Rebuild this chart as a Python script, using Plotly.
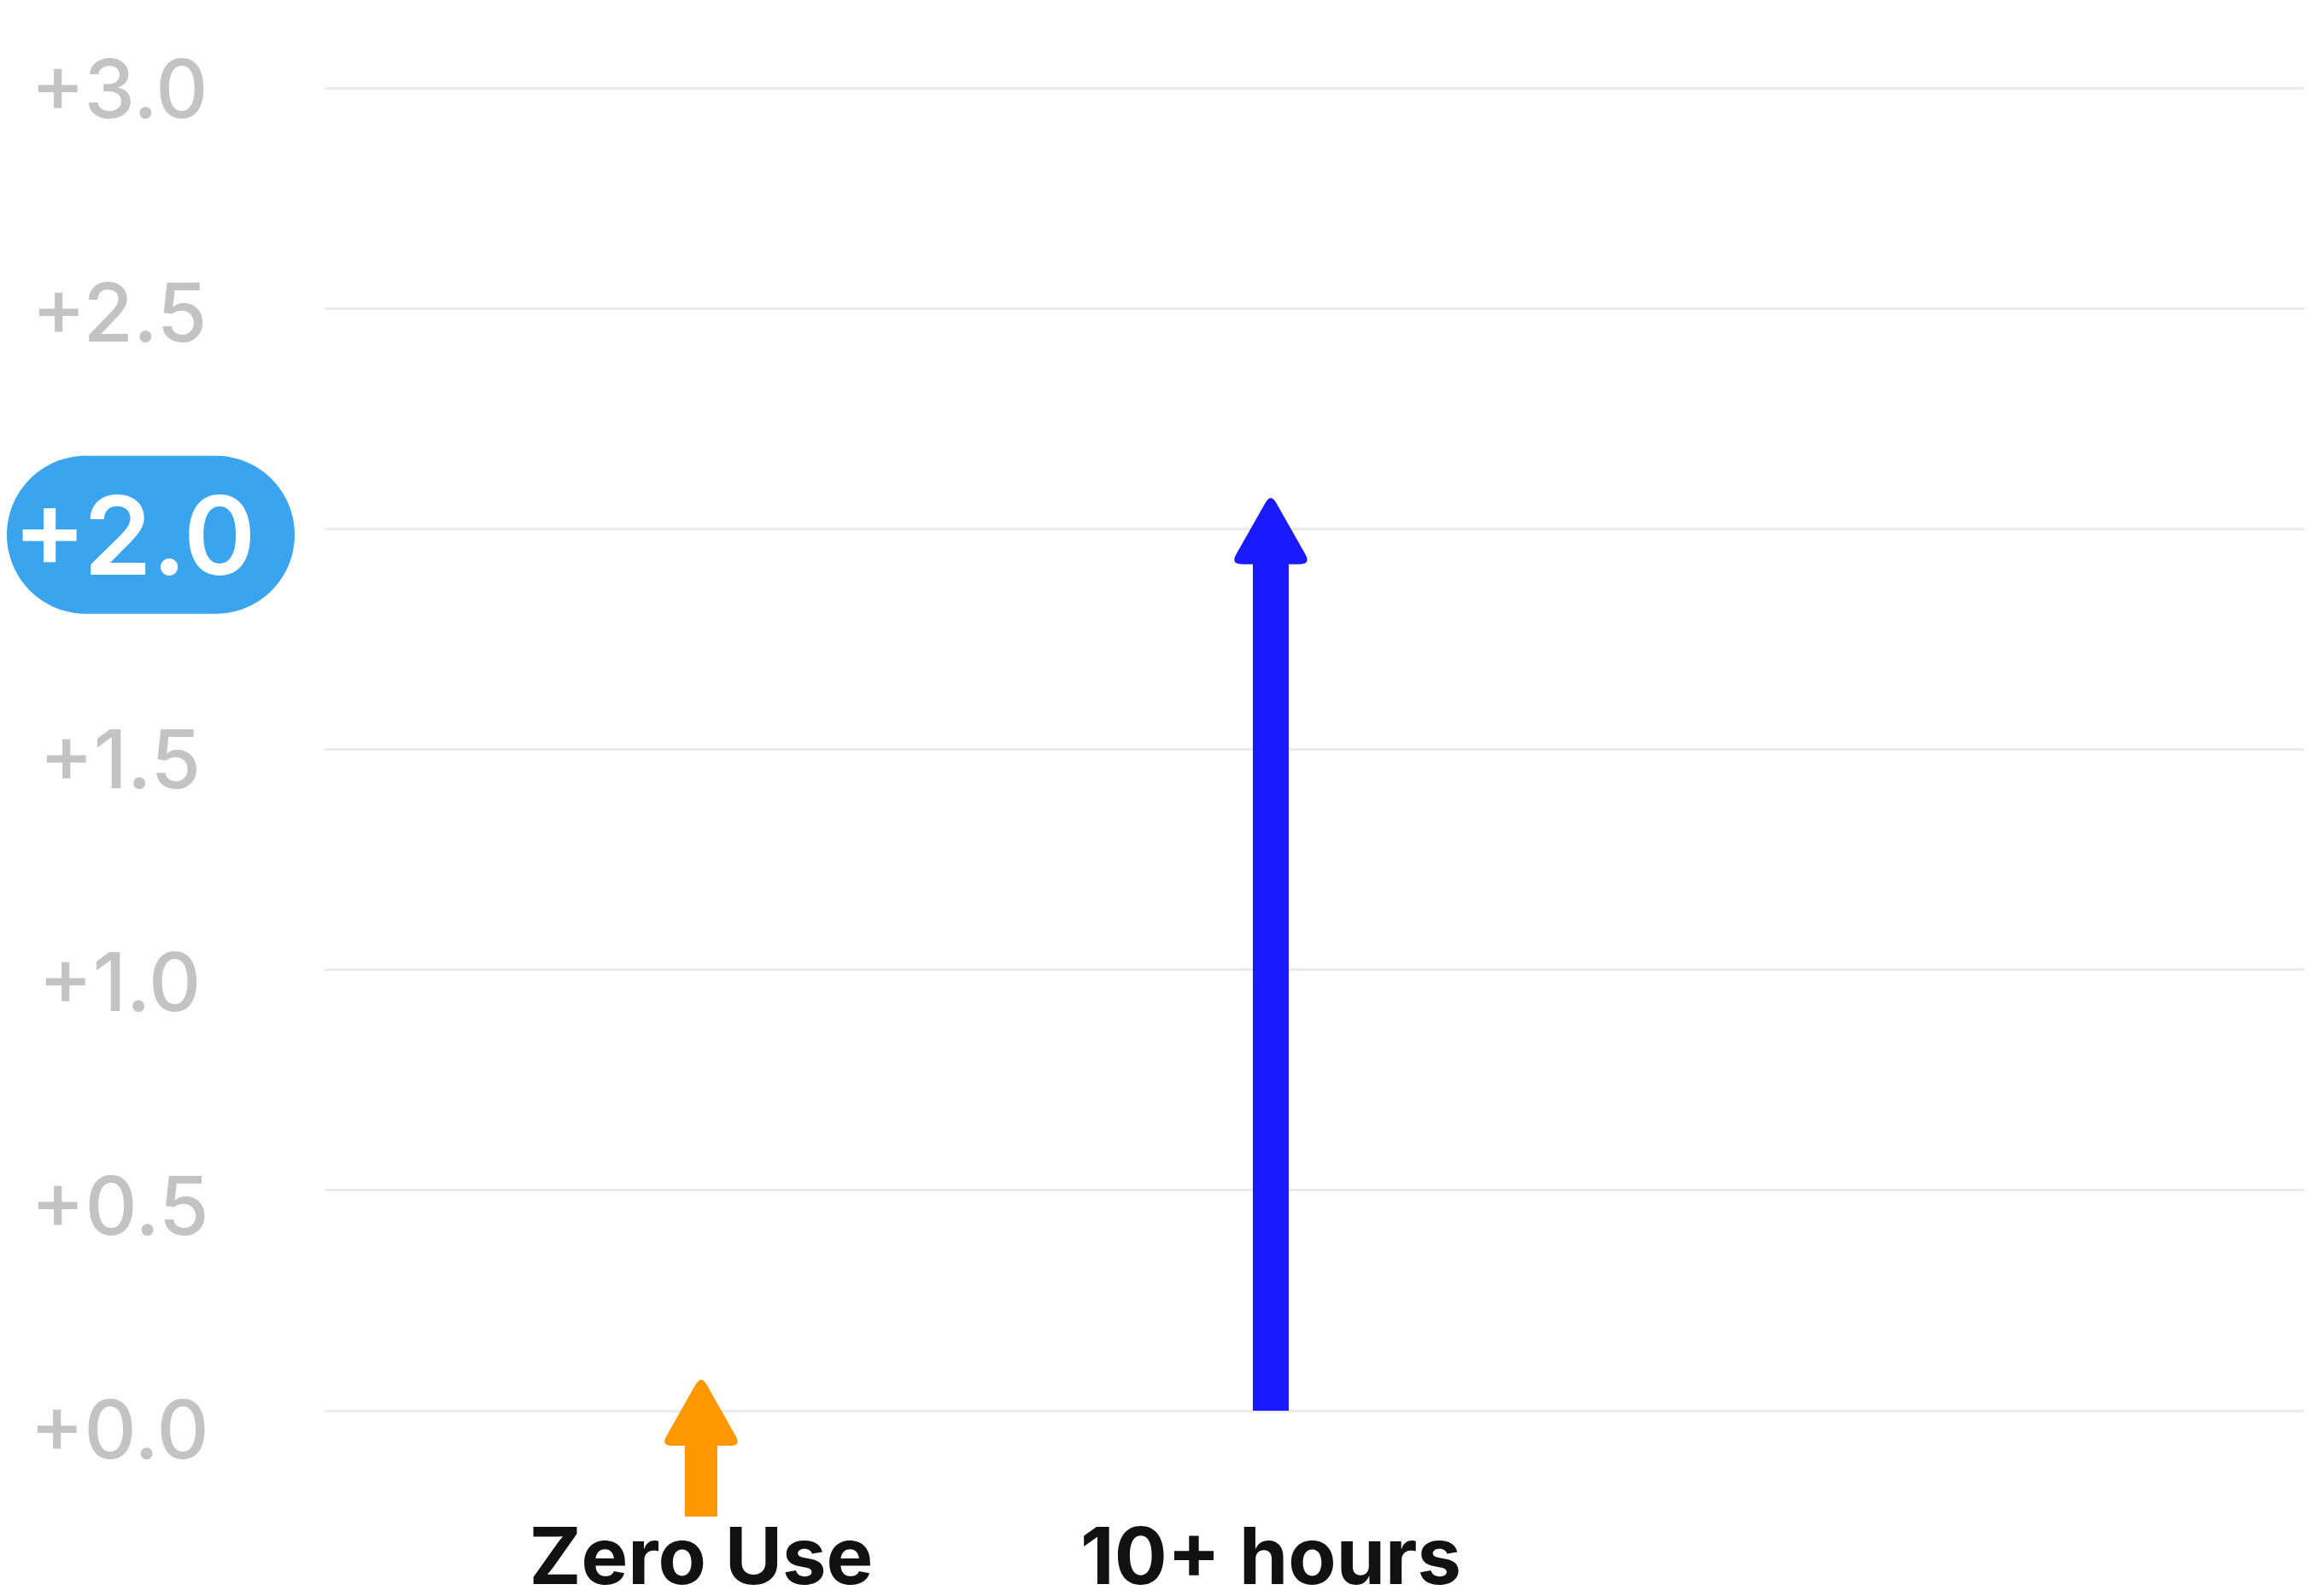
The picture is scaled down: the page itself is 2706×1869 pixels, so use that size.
import plotly.graph_objects as go

# ---------------- data ----------------
categories = ["Zero Use", "10+ hours"]
arrow_start = [-0.24, 0.0]      # where each arrow's shaft begins
arrow_end = [0.0, 2.0]          # value each arrow points to
arrow_colors = ["#FF9800", "#1A1AFF"]
shaft_widths = [38, 42]

y_tick_values = [0.0, 0.5, 1.0, 1.5, 2.0, 2.5, 3.0]
y_tick_labels = ["+0.0", "+0.5", "+1.0", "+1.5", "+2.0", "+2.5", "+3.0"]
highlight_value = 2.0
highlight_label = "+2.0"

# ---------------- style ----------------
W, H = 2690, 1853
FONT = "Inter"
GRID_COLOR = "#ebebeb"
TICK_COLOR = "#c3c3c3"
PILL_COLOR = "#3BA4EE"
LABEL_CENTER_SHIFT = -240      # px from plot left edge to tick label centre
LABEL_DRIFT = 7                # px per unit (labels drift slightly downward)

x_pos = list(range(len(categories)))

fig = go.Figure()

# shafts
for i, cat in enumerate(categories):
    fig.add_trace(go.Scatter(
        x=[x_pos[i], x_pos[i]],
        y=[arrow_start[i], arrow_end[i]],
        mode="lines",
        line=dict(color=arrow_colors[i], width=shaft_widths[i]),
        hoverinfo="skip",
        showlegend=False,
    ))


def rounded_polygon(pts, r):
    def toward(a, b, d):
        dx, dy = b[0] - a[0], b[1] - a[1]
        L = (dx * dx + dy * dy) ** 0.5
        return (a[0] + dx / L * d, a[1] + dy / L * d)
    n = len(pts)
    parts = []
    for k in range(n):
        p0, p1, p2 = pts[k - 1], pts[k], pts[(k + 1) % n]
        a = toward(p1, p0, r)
        b = toward(p1, p2, r)
        cmd = "M" if k == 0 else "L"
        parts.append(f"{cmd}{a[0]:.2f},{a[1]:.2f} Q{p1[0]:.2f},{p1[1]:.2f} {b[0]:.2f},{b[1]:.2f}")
    return " ".join(parts) + " Z"


HEAD_PATH = rounded_polygon([(0, 42), (47, -41), (-47, -41)], 13)

# arrow heads (pixel-sized, anchored at data values)
for i in range(len(categories)):
    fig.add_shape(
        type="path", xref="x", yref="y",
        xsizemode="pixel", ysizemode="pixel",
        xanchor=x_pos[i], yanchor=arrow_end[i],
        path=HEAD_PATH,
        fillcolor=arrow_colors[i], line=dict(width=0),
    )

# tick labels (centred) as annotations
for v, t in zip(y_tick_values, y_tick_labels):
    if v == highlight_value:
        continue
    fig.add_annotation(
        x=0, xref="paper", y=v, yref="y",
        xshift=LABEL_CENTER_SHIFT, yshift=-(3.0 - v) * LABEL_DRIFT,
        text=t, showarrow=False, xanchor="center", yanchor="middle",
        font=dict(family=FONT, size=95, color=TICK_COLOR, weight=500),
    )

# highlighted pill
L, R, T, B = -372, -35, 86, -99
r = (T - B) / 2
c = (T + B) / 2
k = 0.5523 * r
pill = (
    f"M{L + r},{T} H{R - r} "
    f"C{R - r + k},{T} {R},{c + k} {R},{c} "
    f"C{R},{c - k} {R - r + k},{B} {R - r},{B} "
    f"H{L + r} "
    f"C{L + r - k},{B} {L},{c - k} {L},{c} "
    f"C{L},{c + k} {L + r - k},{T} {L + r},{T} Z"
)
fig.add_shape(
    type="path", xref="paper", yref="y",
    xsizemode="pixel", ysizemode="pixel",
    xanchor=0, yanchor=highlight_value,
    path=pill, fillcolor=PILL_COLOR, line=dict(width=0),
)
fig.add_annotation(
    x=0, xref="paper", y=highlight_value, yref="y",
    xshift=-223, yshift=-(3.0 - highlight_value) * LABEL_DRIFT,
    text=highlight_label, showarrow=False, xanchor="center", yanchor="middle",
    font=dict(family=FONT, size=128, color="white", weight=600),
)

fig.update_layout(
    width=W, height=H,
    margin=dict(l=372, r=0, t=0, b=79),
    paper_bgcolor="white", plot_bgcolor="white",
    xaxis=dict(
        range=[-0.661, 2.814],
        tickvals=x_pos, ticktext=categories,
        showgrid=False, zeroline=False, showline=False, ticks="",
        tickfont=dict(family=FONT, size=92, color="#111111", weight="bold"),
        ticklabelstandoff=-20,
        automargin=False,
    ),
    yaxis=dict(
        range=[-0.2518, 3.185],
        tickvals=y_tick_values,
        showticklabels=False,
        showgrid=True, gridcolor=GRID_COLOR, gridwidth=3,
        zeroline=False, showline=False, ticks="",
        automargin=False,
    ),
    showlegend=False,
)

fig.write_html("out.html")
